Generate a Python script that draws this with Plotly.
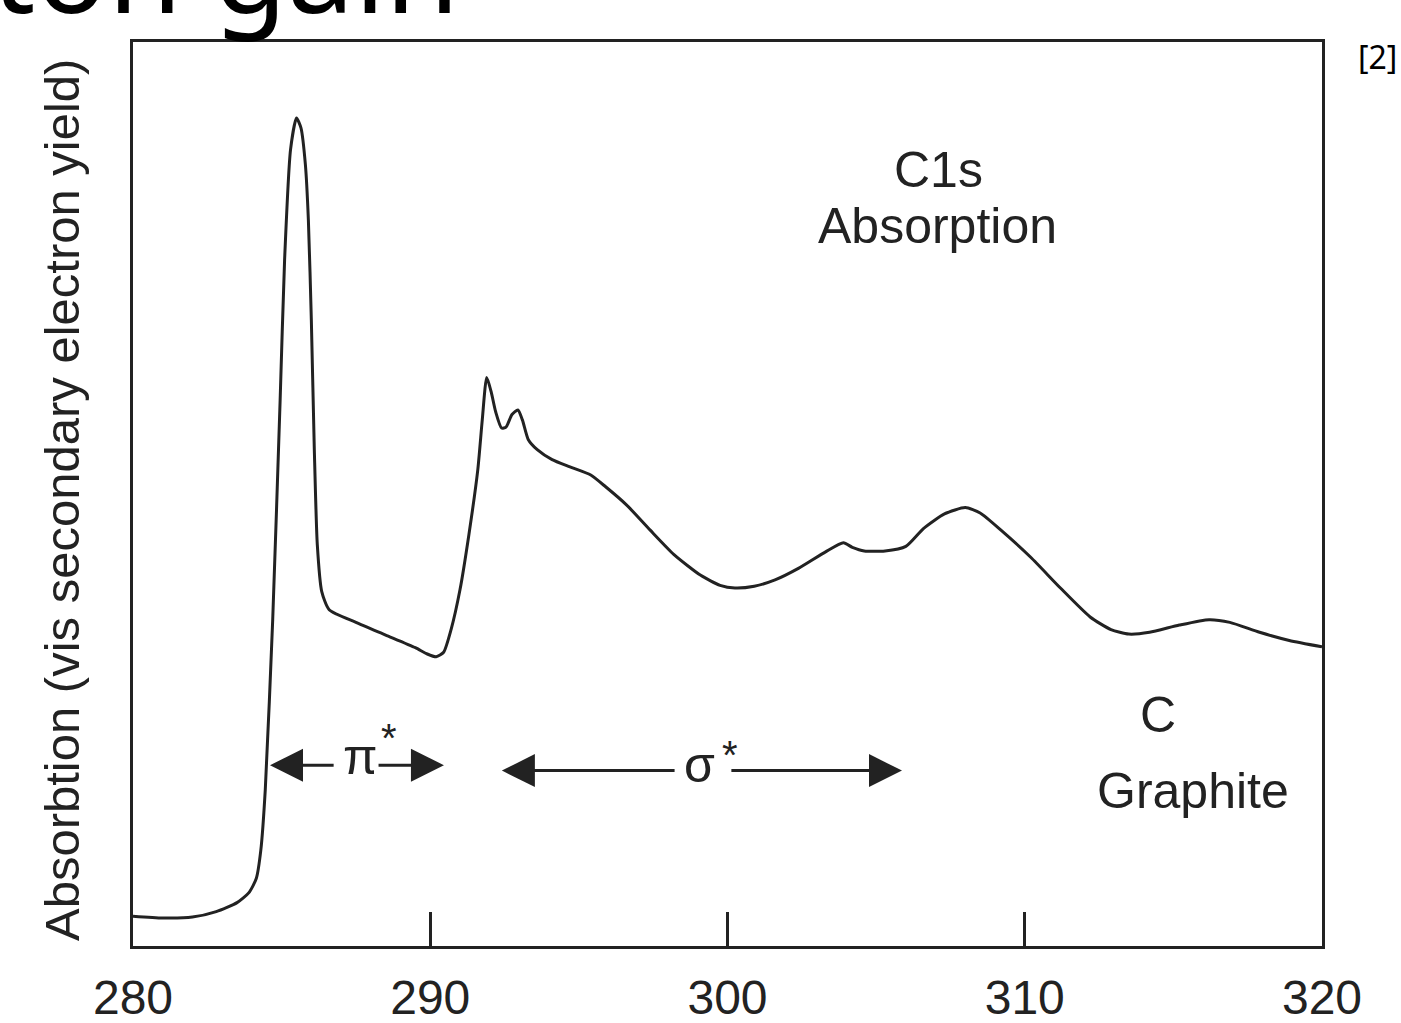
import plotly.graph_objects as go

# ---- data ----
energy_ev = [280.0, 281.0, 282.0, 282.8, 283.5, 283.9, 284.15, 284.3, 284.45, 284.7,
             284.95, 285.1, 285.3, 285.5, 285.65, 285.8, 285.9, 286.0, 286.1, 286.2,
             286.35, 286.6, 287.5, 288.5, 289.5, 289.9, 290.2, 290.45, 290.7, 291.0,
             291.3, 291.6, 291.75, 291.9, 292.05, 292.2, 292.4, 292.55, 292.75, 292.95,
             293.1, 293.3, 293.6, 294.1, 294.7, 295.4, 295.9, 296.6, 297.4, 298.2,
             299.1, 299.75, 300.25, 300.9, 301.6, 302.4, 303.3, 303.9, 304.2, 304.6,
             305.3, 306.0, 306.6, 307.3, 308.0, 308.5, 309.2, 310.2, 311.2, 312.2,
             312.9, 313.5, 314.2, 315.2, 316.2, 316.9, 317.9, 318.9, 320.0]
absorption = [3.3, 3.1, 3.2, 3.8, 4.8, 5.9, 7.5, 10.6, 17.3, 36.1,
              60.4, 75.9, 88.1, 91.6, 90.5, 86.4, 80.3, 69.2, 54.9, 44.4,
              39.2, 37.2, 35.8, 34.4, 33.0, 32.3, 32.0, 32.5, 35.0, 39.4,
              45.5, 52.7, 58.2, 62.9, 61.3, 59.1, 57.3, 57.4, 58.8, 59.3,
              58.2, 56.0, 54.9, 53.8, 53.0, 52.1, 50.8, 48.8, 46.0, 43.3,
              41.0, 39.9, 39.6, 39.8, 40.5, 41.8, 43.6, 44.6, 44.1, 43.7,
              43.7, 44.2, 46.2, 47.8, 48.5, 47.9, 46.0, 43.0, 39.6, 36.4,
              35.0, 34.5, 34.7, 35.5, 36.1, 35.8, 34.7, 33.8, 33.1]

x_tick_values = [280, 290, 300, 310, 320]
x_tick_labels = ["280", "290", "300", "310", "320"]

# arrow ranges (eV): [left tip, left shaft end, right shaft start, right tip], level
pi_arrow = [284.61, 286.8, 288.21, 290.46]
pi_level = 20.0
sigma_arrow = [292.41, 298.27, 300.08, 305.87]
sigma_level = 19.4

INK = "#222222"
SANS = "Liberation Sans, Arial, sans-serif"

fig = go.Figure()
fig.add_trace(go.Scatter(
    x=energy_ev, y=absorption, mode="lines",
    line=dict(color=INK, width=3, shape="spline", smoothing=0.6),
    hoverinfo="skip", showlegend=False,
))

# plot area: x 133..1322 px, y 42..946 px ; y range 0..100 -> 9.04 px/unit
def py(px):
    return (946 - px) / 9.04

ann = []

def arrow(tip, tail, level):
    ann.append(dict(x=tip, y=level, ax=tail, ay=level, xref="x", yref="y",
                    axref="x", ayref="y", text="", showarrow=True,
                    arrowhead=2, arrowsize=2.2, arrowwidth=3, arrowcolor=INK,
                    standoff=0, startstandoff=0))

arrow(pi_arrow[0], pi_arrow[1], pi_level)
arrow(pi_arrow[3], pi_arrow[2], pi_level)
arrow(sigma_arrow[0], sigma_arrow[1], sigma_level)
arrow(sigma_arrow[3], sigma_arrow[2], sigma_level)

def label(text, xv, ypx, size, anchor="center"):
    ann.append(dict(x=xv, y=py(ypx), xref="x", yref="y", text=text,
                    showarrow=False, xanchor=anchor, yanchor="middle",
                    font=dict(family=SANS, size=size, color=INK)))

label("π", 287.67, 757, 50)
label("*", 288.6, 738, 40)
label("σ", 299.07, 765, 50)
label("*", 300.1, 755, 40)
label("C1s", 307.11, 170, 50)
label("Absorption", 307.05, 226, 50)
label("C", 314.48, 715, 50)
label("Graphite", 315.66, 791, 50)

# y-axis title (as annotation for exact placement)
ann.append(dict(x=(62 - 133) / 1189, y=(946 - 500) / 904, xref="paper", yref="paper",
                text="Absorbtion (vis secondary electron yield)", textangle=-90,
                showarrow=False, xanchor="center", yanchor="middle",
                font=dict(family=SANS, size=49, color=INK)))

# cropped page heading at top-left and reference marker at top-right
ann.append(dict(x=(462 - 133) / 1189, y=1.0, xref="paper", yref="paper",
                text="ton gain", showarrow=False, xanchor="right", yanchor="bottom",
                borderpad=1, yshift=-8,
                font=dict(family="Noto Sans", size=120, color="#000000")))
ann.append(dict(x=(1356 - 133) / 1189, y=(946 - 33) / 904, xref="paper", yref="paper",
                text="[2]", showarrow=False, xanchor="left", yanchor="top",
                borderpad=1, font=dict(family="Noto Sans", size=32, color="#000000")))

fig.update_layout(
    width=1401, height=1023, autosize=False,
    margin=dict(l=133, r=79, t=42, b=77, pad=0, autoexpand=False),
    paper_bgcolor="white", plot_bgcolor="white",
    annotations=ann,
    xaxis=dict(range=[280, 320], tickvals=x_tick_values, ticktext=x_tick_labels,
               ticks="inside", ticklen=34, tickwidth=3, tickcolor=INK,
               showline=True, linewidth=3, linecolor=INK, mirror=True,
               showgrid=False, zeroline=False, ticklabelstandoff=7,
               automargin=False,
               tickfont=dict(family=SANS, size=48, color=INK)),
    yaxis=dict(range=[0, 100], showticklabels=False, ticks="",
               showline=True, linewidth=3, linecolor=INK, mirror=True,
               showgrid=False, zeroline=False, automargin=False),
)

fig.write_html("out.html", config={"displayModeBar": False},
               post_script="document.body.style.margin='0';")
